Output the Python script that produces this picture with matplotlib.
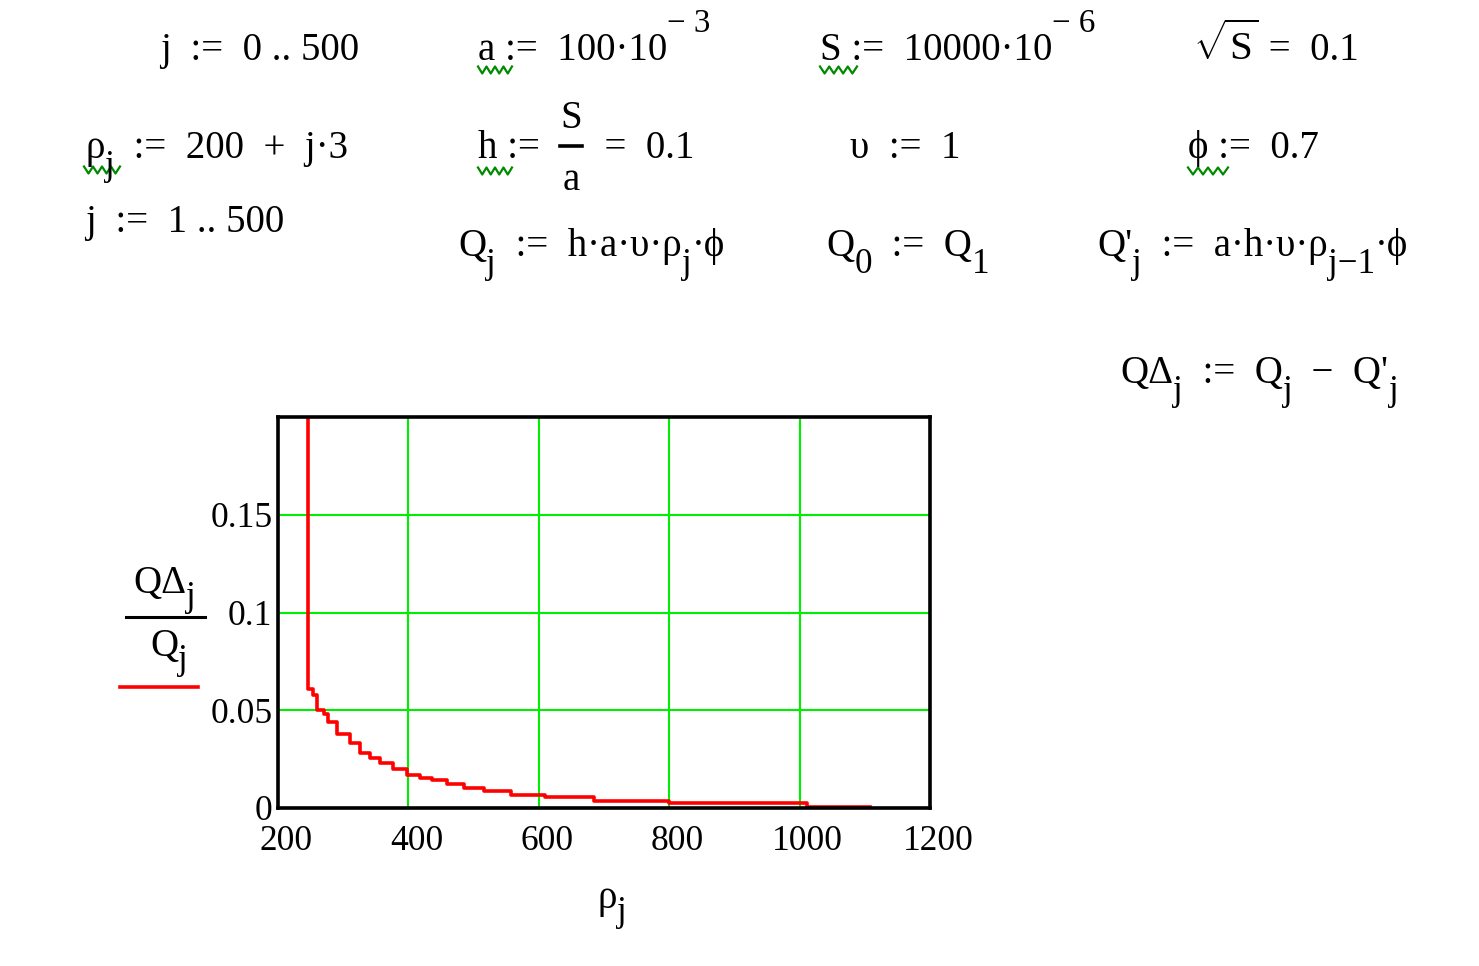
import numpy as np
import matplotlib
matplotlib.use("Agg")
import matplotlib.pyplot as plt
from matplotlib.lines import Line2D
from matplotlib.transforms import ScaledTranslation

plt.rcParams['font.family'] = ['Liberation Serif', 'DejaVu Serif']
plt.rcParams['mathtext.fontset'] = 'custom'
plt.rcParams['mathtext.rm'] = 'Liberation Serif'
plt.rcParams['mathtext.it'] = 'Liberation Serif'

rho = [246, 246, 254, 260, 270, 277, 290, 311, 326, 341, 357, 377, 398, 418,
       436, 459, 485, 516, 557, 610, 684, 800, 1012, 1108]
ratio = [0.20, 0.061, 0.058, 0.050, 0.048, 0.044, 0.038, 0.033, 0.028, 0.0255,
         0.023, 0.020, 0.017, 0.0151, 0.0143, 0.0123, 0.0100, 0.0088, 0.0067,
         0.0058, 0.0037, 0.0027, 0.0003, 0.0003]

xticks = [200, 400, 600, 800, 1000, 1200]
yticks = [0, 0.05, 0.1, 0.15]
ytick_labels = ['0', '0.05', '0.1', '0.15']

W, H = 1479, 966
fig = plt.figure(figsize=(W / 100, H / 100), dpi=100)
renderer = fig.canvas.get_renderer()

def fx(px):
    return px / W

def fy(py):
    return 1 - py / H

FS = 28
SUB = 17    # subscript drop, px
SUP = -28   # superscript rise, px

def compose(x, y, parts, size=FS):
    # parts: (text, dy in px, size factor); drawn left to right
    cur = x
    for s, dy, sc in parts:
        t = fig.text(fx(cur), fy(y + dy), s, fontsize=size * sc, va='baseline', ha='left')
        cur += t.get_window_extent(renderer).width
    return cur

def wavy(x0, x1, y):
    n = 8
    xs = np.linspace(x0, x1, n + 1)
    ys = [y + (3.5 if i % 2 else -3.5) for i in range(n + 1)]
    fig.add_artist(Line2D([fx(v) for v in xs], [fy(v) for v in ys],
                          color='#008a00', lw=1.6, transform=fig.transFigure))

def hline(x0, x1, y, color='black', lw=2.2):
    fig.add_artist(Line2D([fx(x0), fx(x1)], [fy(y), fy(y)], color=color, lw=lw,
                          transform=fig.transFigure))

# row 1
compose(160, 60, [("j  :=  0 .. 500", 0, 1)])
compose(478, 60, [("a :=  100·10", 0, 1), ("− 3", SUP, 0.85)])
compose(820, 60, [("S :=  10000·10", 0, 1), ("− 6", SUP, 0.85)])
compose(1193, 60, [("$\\sqrt{\\mathrm{S}}$", 0, 1.05), (" =  0.1", 0, 1)])
wavy(478, 512, 70)
wavy(820, 857, 70)

# row 2
compose(85, 158, [("ρ", 0, 1), ("j", SUB, 0.9), ("  :=  200  +  j·3", 0, 1)])
x = compose(478, 158, [("h :=  ", 0, 1)])
fig.text(fx(x + 12), fy(128), "S", fontsize=FS, ha='center', va='baseline')
hline(x + 1, x + 23, 146, lw=2.6)
fig.text(fx(x + 12), fy(190), "a", fontsize=FS, ha='center', va='baseline')
compose(x + 26, 158, [("  =  0.1", 0, 1)])
compose(850, 158, [("υ  :=  1", 0, 1)])
compose(1188, 158, [("ϕ :=  0.7", 0, 1)])
wavy(84, 120, 170)
wavy(478, 512, 171)
wavy(1188, 1228, 171)

# row 3
compose(85, 232, [("j  :=  1 .. 500", 0, 1)])
compose(458, 256, [("Q", 0, 1), ("j", SUB, 0.9), ("  :=  h·a·υ·ρ", 0, 1), ("j", SUB, 0.9),
                   ("·ϕ", 0, 1)])
compose(826, 256, [("Q", 0, 1), ("0", SUB, 0.9), ("  :=  Q", 0, 1), ("1", SUB, 0.9)])
compose(1097, 256, [("Q'", 0, 1), ("j", SUB, 0.9), ("  :=  a·h·υ·ρ", 0, 1),
                    ("j−1", SUB, 0.9), ("·ϕ", 0, 1)])
compose(1120, 383, [("QΔ", 0, 1), ("j", SUB, 0.9), ("  :=  Q", 0, 1), ("j", SUB, 0.9),
                    ("  −  Q'", 0, 1), ("j", SUB, 0.9)])

# plot
ax = fig.add_axes([fx(278), fy(808), fx(930) - fx(278), fy(417) - fy(808)])
ax.plot(rho, ratio, color='#ff0000', lw=2.6, drawstyle='steps-post', zorder=3)
ax.set_xlim(200, 1200)
ax.set_ylim(0, 0.2)
ax.set_xticks(xticks)
ax.set_yticks(yticks)
ax.set_yticklabels(ytick_labels)
ax.grid(True, color='#00ee00', lw=1.5)
ax.set_axisbelow(True)
ax.tick_params(length=0, labelsize=25.5)
ax.tick_params(axis='x', pad=12)
ax.tick_params(axis='y', pad=4)
for s in ax.spines.values():
    s.set_linewidth(2.6)
    s.set_zorder(4)
shift = ScaledTranslation(8 / 100, 0, fig.dpi_scale_trans)
for lbl in ax.get_xticklabels():
    lbl.set_transform(lbl.get_transform() + shift)

# axis labels
compose(133, 593, [("QΔ", 0, 1), ("j", SUB - 4, 0.9)])
hline(126, 205, 617)
compose(150, 656, [("Q", 0, 1), ("j", SUB - 4, 0.9)])
hline(120, 198, 687, color='#ff0000', lw=2.6)
compose(598, 908, [("ρ", 0, 1), ("j", SUB - 4, 0.9)])

fig.savefig('out.png', dpi=100)
